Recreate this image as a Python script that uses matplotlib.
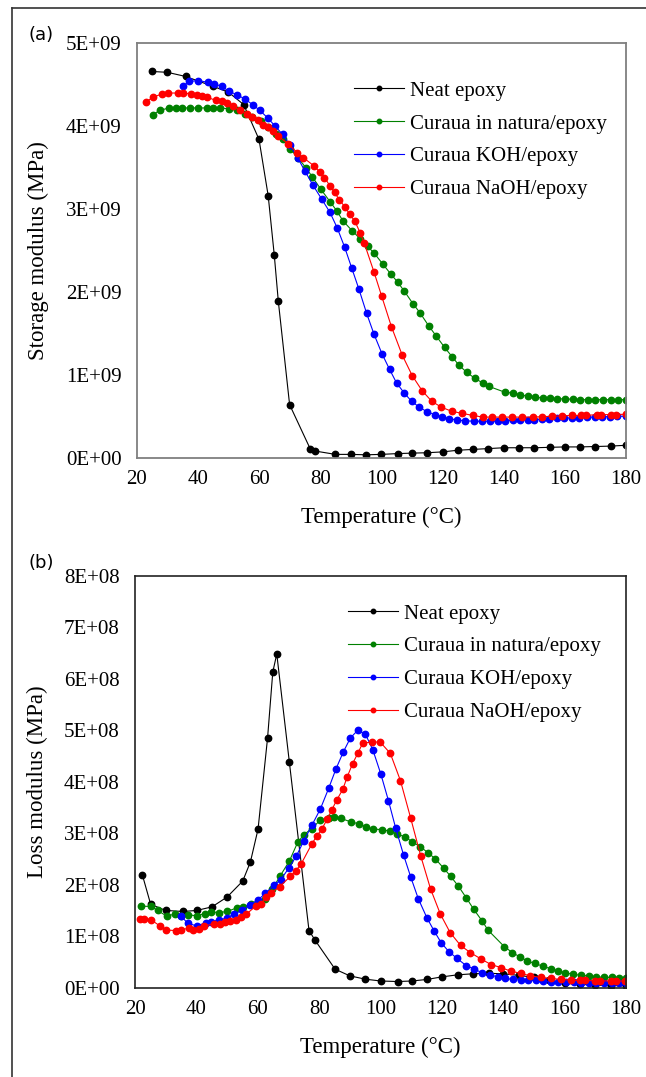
import numpy as np
import matplotlib
matplotlib.use("Agg")
import matplotlib.pyplot as plt
from matplotlib.ticker import FuncFormatter, MultipleLocator
from matplotlib.lines import Line2D

plt.rcParams['font.family'] = ['Liberation Serif', 'DejaVu Serif']

labels = ["Neat epoxy", "Curaua in natura/epoxy", "Curaua KOH/epoxy", "Curaua NaOH/epoxy"]
colors = ["black", "#008000", "#0000ff", "#ff0000"]

# (a) storage modulus, values in 1E+09
T_neat_a = [25, 30, 36, 45, 50, 55, 60, 63, 65, 66.3, 70, 76.7, 78.4, 85, 90, 95, 100, 105.5, 110, 115,
            120, 125, 130, 135, 140, 145, 150, 155, 160, 165, 170, 175, 180]
E_neat_a = [4.66, 4.65, 4.60, 4.48, 4.41, 4.26, 3.84, 3.16, 2.44, 1.89, 0.64, 0.11, 0.08, 0.04, 0.04, 0.035,
            0.04, 0.05, 0.055, 0.06, 0.07, 0.09, 0.10, 0.11, 0.12, 0.12, 0.12, 0.125, 0.13, 0.13, 0.135, 0.14, 0.15]

T_nat_a = [25.2, 27.6, 30.5, 32.9, 34.9, 37.3, 40, 43, 45, 47.3, 50.1, 52.8, 55.3, 57.8, 60.6, 63, 65.5, 67.9,
           70.1, 72.7, 75.3, 77.4, 80.2, 83.2, 85.4, 87.4, 90.4, 93.1, 95.5, 97.6, 100.4, 103, 105.3, 107.5,
           110.3, 112.6, 115.5, 117.9, 120.7, 123.1, 125.3, 127.9, 130.5, 133.2, 135.2, 140.4, 143, 145.5, 148,
           150.2, 153, 155.2, 157.5, 160, 162.6, 165, 167.6, 170, 172.5, 175, 177.3, 180]
E_nat_a = [4.14, 4.19, 4.22, 4.22, 4.22, 4.22, 4.22, 4.22, 4.22, 4.22, 4.21, 4.19, 4.15, 4.11, 4.06, 3.99, 3.91,
           3.84, 3.73, 3.62, 3.50, 3.39, 3.24, 3.09, 2.98, 2.86, 2.74, 2.64, 2.55, 2.47, 2.34, 2.22, 2.12, 2.01,
           1.86, 1.75, 1.59, 1.47, 1.33, 1.22, 1.12, 1.03, 0.96, 0.90, 0.86, 0.79, 0.78, 0.76, 0.74, 0.73, 0.72,
           0.715, 0.71, 0.71, 0.705, 0.70, 0.70, 0.70, 0.70, 0.70, 0.70, 0.70]

T_koh_a = [35, 37.2, 40.1, 43.3, 45.4, 47.8, 50.3, 52.7, 55.3, 57.9, 60.3, 62.8, 65.3, 67.7, 70.1, 72.6, 75,
           77.6, 80.5, 83.2, 85.6, 88, 90.3, 92.7, 95.2, 97.6, 100.2, 102.7, 105, 107.5, 109.9, 112.4, 114.9,
           117.5, 119.8, 122.2, 124.8, 127.4, 130.4, 132.8, 135.5, 138, 140.4, 143, 145.5, 148, 150, 152.5,
           154.9, 157.4, 159.8, 162.3, 164.7, 167.2, 169.7, 172.2, 174.7, 177.1, 180]
E_koh_a = [4.48, 4.54, 4.55, 4.53, 4.51, 4.48, 4.42, 4.38, 4.33, 4.26, 4.19, 4.10, 4.00, 3.90, 3.77, 3.62, 3.46,
           3.29, 3.12, 2.96, 2.77, 2.54, 2.29, 2.03, 1.74, 1.49, 1.255, 1.065, 0.90, 0.78, 0.68, 0.61, 0.555,
           0.52, 0.495, 0.47, 0.455, 0.445, 0.44, 0.44, 0.44, 0.44, 0.445, 0.45, 0.455, 0.46, 0.46, 0.465,
           0.47, 0.475, 0.48, 0.48, 0.485, 0.49, 0.49, 0.495, 0.495, 0.50, 0.50]

T_naoh_a = [22.9, 25.4, 28.3, 30.1, 33.6, 35, 37.8, 39.6, 41.3, 42.9, 46, 47.8, 49.4, 51.6, 53.8, 56, 57.6, 59.8,
            61.4, 62.8, 64.7, 66.3, 69.4, 72.5, 74.5, 78, 79.8, 81.4, 83.2, 84.7, 86.3, 88, 89.6, 91.4, 93.1,
            94.4, 97.6, 100.1, 103.3, 106.8, 110.1, 113.3, 116.5, 119.6, 123, 126.4, 129.9, 133.2, 136.2, 139.6,
            142.8, 146.1, 149.5, 152.6, 155.9, 159.1, 162.4, 165.3, 167, 170.5, 171.9, 175.2, 176.8, 180]
E_naoh_a = [4.29, 4.35, 4.39, 4.40, 4.40, 4.40, 4.39, 4.38, 4.36, 4.35, 4.31, 4.30, 4.28, 4.24, 4.19, 4.15, 4.11,
            4.07, 4.02, 3.99, 3.94, 3.88, 3.79, 3.68, 3.62, 3.52, 3.45, 3.38, 3.28, 3.20, 3.11, 3.03, 2.94, 2.85,
            2.71, 2.59, 2.24, 1.95, 1.58, 1.24, 0.99, 0.81, 0.68, 0.61, 0.56, 0.535, 0.51, 0.49, 0.49, 0.49,
            0.49, 0.49, 0.49, 0.495, 0.50, 0.505, 0.51, 0.51, 0.51, 0.52, 0.52, 0.52, 0.52, 0.525]

# (b) loss modulus, values in 1E+08
T_neat_b = [22.4, 25.1, 30, 35.7, 40.1, 45.1, 50, 55.1, 57.6, 60.1, 63.2, 64.9, 66.2, 70.3, 76.7, 78.7, 85.2,
            90, 95.1, 100.1, 105.6, 110.2, 115.1, 120, 125.1, 130.1, 135.2, 140, 145, 150, 155, 160, 165, 170,
            175, 180]
L_neat_b = [2.19, 1.62, 1.50, 1.48, 1.50, 1.57, 1.76, 2.07, 2.44, 3.08, 4.85, 6.13, 6.48, 4.38, 1.11, 0.92, 0.36,
            0.23, 0.165, 0.13, 0.12, 0.13, 0.16, 0.21, 0.25, 0.27, 0.28, 0.27, 0.24, 0.20, 0.15, 0.085, 0.065,
            0.05, 0.04, 0.04]

T_nat_b = [22.1, 25.1, 27.4, 30.3, 33, 34.9, 37.4, 40.1, 42.9, 44.9, 47.4, 50.1, 53.1, 55.2, 57.7, 60.2, 62.4,
           64.8, 67.2, 70.3, 73, 75, 77.6, 80.3, 83.1, 85, 87, 90.3, 93.1, 95.3, 97.4, 100.5, 103, 105.5, 108,
           110.4, 112.9, 115.5, 117.9, 120.6, 122.9, 125.4, 127.9, 130.4, 133.2, 135, 140.3, 143, 145.4, 147.8,
           150.3, 152.8, 155.4, 157.7, 160.1, 162.8, 165.3, 167.8, 170.2, 172.9, 175.3, 177.6, 180]
L_nat_b = [1.58, 1.58, 1.50, 1.39, 1.43, 1.39, 1.41, 1.40, 1.44, 1.47, 1.46, 1.48, 1.55, 1.56, 1.62, 1.62, 1.72,
           1.92, 2.16, 2.46, 2.82, 2.97, 3.09, 3.25, 3.29, 3.31, 3.29, 3.22, 3.18, 3.12, 3.08, 3.07, 3.04, 2.98,
           2.93, 2.83, 2.74, 2.62, 2.50, 2.32, 2.16, 1.97, 1.75, 1.52, 1.29, 1.12, 0.80, 0.68, 0.60, 0.52, 0.47,
           0.42, 0.37, 0.33, 0.29, 0.26, 0.24, 0.23, 0.21, 0.20, 0.20, 0.19, 0.19]

T_koh_b = [35, 37.2, 40.1, 43, 44.9, 47.5, 49.9, 52.2, 55, 57.5, 60.1, 62.5, 65.3, 67.5, 70.1, 72.6, 75, 77.7,
           80.4, 83.1, 85.5, 87.9, 90.2, 92.6, 95.1, 97.5, 100.1, 102.6, 104.9, 107.5, 109.9, 112.3, 115.1,
           117.4, 119.8, 122.3, 124.9, 127.9, 130.6, 133.1, 135.6, 138.2, 140.7, 143.2, 145.7, 148.2, 150.6,
           153.1, 155.5, 158, 160.4, 162.9, 165.3, 167.9, 170.3, 172.8, 175.3, 177.8, 180]
L_koh_b = [1.39, 1.25, 1.20, 1.26, 1.28, 1.32, 1.35, 1.43, 1.50, 1.61, 1.71, 1.83, 1.99, 2.10, 2.32, 2.56, 2.85,
           3.16, 3.47, 3.87, 4.25, 4.58, 4.85, 5.00, 4.92, 4.62, 4.15, 3.63, 3.11, 2.58, 2.14, 1.73, 1.36, 1.11,
           0.87, 0.70, 0.57, 0.43, 0.36, 0.29, 0.25, 0.21, 0.18, 0.16, 0.15, 0.14, 0.14, 0.13, 0.12, 0.115,
           0.11, 0.11, 0.10, 0.10, 0.10, 0.10, 0.10, 0.10, 0.10]

T_naoh_b = [21.6, 22.9, 25.2, 28.1, 30, 33.3, 34.9, 37.5, 39, 40.7, 42.6, 45.8, 47.6, 49.2, 51.1, 52.9, 54.7,
            56.3, 59.3, 61.1, 62.6, 64.2, 67.1, 70.6, 72.4, 74.2, 77.7, 79.3, 80.9, 82.6, 84.2, 85.7, 87.7, 89.2,
            90.9, 92.6, 94.2, 97.3, 99.9, 103.2, 106.5, 109.8, 113.1, 116.3, 119.5, 122.7, 126.1, 129.3, 132.7,
            136, 139.3, 142.5, 145.7, 148.8, 152.3, 155.6, 158.7, 162.1, 165, 166.8, 169.9, 171.4, 175, 176.6,
            179.7]
L_naoh_b = [1.34, 1.34, 1.32, 1.20, 1.12, 1.11, 1.13, 1.15, 1.13, 1.14, 1.20, 1.24, 1.24, 1.27, 1.30, 1.32, 1.37,
            1.43, 1.58, 1.62, 1.76, 1.83, 1.96, 2.16, 2.27, 2.41, 2.80, 2.95, 3.08, 3.27, 3.46, 3.64, 3.85, 4.10,
            4.35, 4.55, 4.75, 4.77, 4.77, 4.55, 4.02, 3.30, 2.56, 1.92, 1.43, 1.07, 0.82, 0.68, 0.56, 0.45, 0.39,
            0.32, 0.28, 0.23, 0.20, 0.18, 0.16, 0.15, 0.14, 0.14, 0.135, 0.135, 0.13, 0.13, 0.13]

fig = plt.figure(figsize=(6.46, 10.77), dpi=100)
W, H = 646, 1077

# outer frame (left and top edges visible)
fig.add_artist(Line2D([12 / W, 12 / W], [0, 1 - 8 / H], color="#333333", lw=1.2))
fig.add_artist(Line2D([12 / W, 1], [1 - 8 / H, 1 - 8 / H], color="#333333", lw=1.2))

ax1 = fig.add_axes([136.7 / W, 1 - 457.7 / H, 489.3 / W, 414.4 / H])
ax2 = fig.add_axes([135 / W, 1 - 987.7 / H, 491 / W, 412 / H])

fmt = FuncFormatter(lambda v, p: "{:.0E}".format(v))

series_a = [(T_neat_a, E_neat_a), (T_nat_a, E_nat_a), (T_koh_a, E_koh_a), (T_naoh_a, E_naoh_a)]
series_b = [(T_neat_b, L_neat_b), (T_nat_b, L_nat_b), (T_koh_b, L_koh_b), (T_naoh_b, L_naoh_b)]

for ax, series, scale in [(ax1, series_a, 1e9), (ax2, series_b, 1e8)]:
    for (t, v), c, lab in zip(series, colors, labels):
        ax.plot(t, np.array(v) * scale, color=c, lw=0.8, marker="o", ms=4.6, label=lab)
    ax.set_xlim(20, 180)
    ax.xaxis.set_major_locator(MultipleLocator(20))
    ax.yaxis.set_major_formatter(fmt)
    ax.tick_params(length=0, labelsize=15)
    ax.tick_params(axis="y", pad=11)
    ax.tick_params(axis="x", pad=9)
    ax.set_xlabel("Temperature (°C)", fontsize=16.5)
    ax.xaxis.set_label_coords(0.5, -0.118)

ax1.set_ylim(0, 5e9)
ax1.yaxis.set_major_locator(MultipleLocator(1e9))
ax2.set_ylim(0, 8e8)
ax2.yaxis.set_major_locator(MultipleLocator(1e8))
for s in ax1.spines.values():
    s.set_color("#7f7f7f")
    s.set_linewidth(1.3)
for s in ax2.spines.values():
    s.set_color("#222222")
    s.set_linewidth(1.2)

ax1.set_ylabel("Storage modulus (MPa)", fontsize=16.5)
ax1.yaxis.set_label_coords(-0.18, 0.5)
ax2.set_ylabel("Loss modulus (MPa)", fontsize=16.5)
ax2.yaxis.set_label_coords(-0.178, 0.5)

leg_kw = dict(frameon=False, fontsize=15, handlelength=2.4, handletextpad=0.3, labelspacing=0.64,
              markerscale=0.7, loc="upper left", borderpad=0, borderaxespad=0)
ax1.legend(bbox_to_anchor=((354 - 136.7) / 489.3, (457.7 - 81) / 414.4), **leg_kw)
ax2.legend(bbox_to_anchor=((348 - 135) / 491, (987.7 - 604) / 412), **leg_kw)

fig.text(28 / W, 1 - 35 / H, "(a)", family="DejaVu Sans", fontsize=13, va="center")
fig.text(28 / W, 1 - 563 / H, "(b)", family="DejaVu Sans", fontsize=13, va="center")

fig.savefig("out.png", dpi=100)
